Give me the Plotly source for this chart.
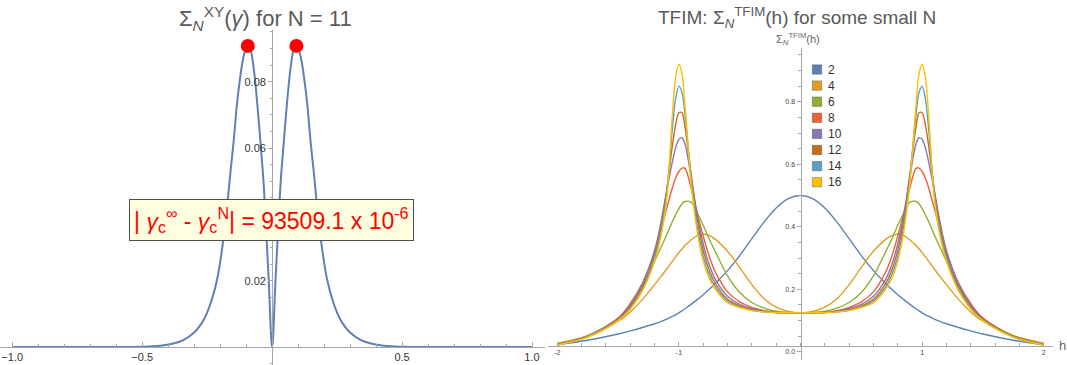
import plotly.graph_objects as go

# ---------------- data: left panel (XY model, N = 11) ----------------
gamma = [-1.0, -0.8, -0.6, -0.5, -0.43, -0.38, -0.34, -0.3, -0.27, -0.25, -0.23, -0.21,
         -0.19, -0.175, -0.16, -0.148, -0.135, -0.125, -0.115, -0.105, -0.0935, -0.082,
         -0.072, -0.065, -0.054, -0.043, -0.034, -0.026, -0.013, 0.0,
         0.013, 0.026, 0.034, 0.043, 0.054, 0.065, 0.072, 0.082, 0.0935, 0.105, 0.115,
         0.125, 0.135, 0.148, 0.16, 0.175, 0.19, 0.21, 0.23, 0.25, 0.27, 0.3, 0.34, 0.38,
         0.43, 0.5, 0.6, 0.8, 1.0]
sigma_xy = [0.0, 0.0, 0.0, 0.0001, 0.0004, 0.0011, 0.0022, 0.0044, 0.0073, 0.0104, 0.0148, 0.021,
            0.031, 0.041, 0.053, 0.062, 0.0735, 0.08, 0.0855, 0.089, 0.0908, 0.0893,
            0.0847, 0.08, 0.0705, 0.06, 0.051, 0.04, 0.02, 0.0,
            0.02, 0.04, 0.051, 0.06, 0.0705, 0.08, 0.0847, 0.0893, 0.0908, 0.089, 0.0855,
            0.08, 0.0735, 0.062, 0.053, 0.041, 0.031, 0.021, 0.0148, 0.0104, 0.0073, 0.0044, 0.0022, 0.0011,
            0.0004, 0.0001, 0.0, 0.0, 0.0]
peak_gamma = [-0.0935, 0.0935]
peak_sigma = [0.0908, 0.0908]

# ---------------- data: right panel (TFIM, values for h >= 0; curves are symmetric) ----------------
h_half = [0.0, 0.1, 0.2, 0.3, 0.4, 0.5, 0.6, 0.7, 0.75, 0.8, 0.85, 0.9, 0.95, 0.975,
          1.0, 1.025, 1.05, 1.1, 1.15, 1.2, 1.3, 1.4, 1.5, 1.75, 2.0]
sizes = ["2", "4", "6", "8", "10", "12", "14", "16"]
s2 = [0.5, 0.49, 0.46, 0.415, 0.362, 0.308, 0.26, 0.219, 0.2, 0.183, 0.167, 0.152, 0.138, 0.131,
      0.125, 0.119, 0.114, 0.105, 0.097, 0.09, 0.078, 0.067, 0.057, 0.037, 0.023]
s4 = [0.125, 0.129, 0.143, 0.17, 0.215, 0.27, 0.322, 0.36, 0.372, 0.377, 0.372, 0.358, 0.34, 0.329,
      0.318, 0.305, 0.292, 0.265, 0.24, 0.215, 0.168, 0.128, 0.098, 0.052, 0.028]
s6 = [0.125, 0.126, 0.13, 0.14, 0.158, 0.19, 0.243, 0.32, 0.36, 0.405, 0.445, 0.479, 0.481, 0.474,
      0.458, 0.44, 0.42, 0.375, 0.332, 0.29, 0.21, 0.15, 0.108, 0.052, 0.025]
s8 = [0.125, 0.125, 0.127, 0.132, 0.142, 0.16, 0.192, 0.255, 0.305, 0.37, 0.445, 0.525, 0.587, 0.588,
      0.577, 0.558, 0.53, 0.46, 0.385, 0.318, 0.22, 0.155, 0.108, 0.05, 0.023]
s10 = [0.125, 0.125, 0.126, 0.13, 0.138, 0.152, 0.178, 0.232, 0.278, 0.345, 0.44, 0.56, 0.665, 0.685,
       0.68, 0.655, 0.615, 0.515, 0.41, 0.325, 0.218, 0.15, 0.106, 0.049, 0.022]
s12 = [0.125, 0.125, 0.126, 0.129, 0.135, 0.147, 0.168, 0.218, 0.26, 0.325, 0.425, 0.57, 0.72, 0.765,
       0.765, 0.73, 0.67, 0.52, 0.395, 0.31, 0.208, 0.145, 0.103, 0.048, 0.022]
s14 = [0.125, 0.125, 0.126, 0.128, 0.133, 0.144, 0.162, 0.207, 0.245, 0.305, 0.405, 0.56, 0.76, 0.83,
       0.85, 0.815, 0.73, 0.51, 0.38, 0.3, 0.2, 0.14, 0.101, 0.048, 0.022]
s16 = [0.125, 0.125, 0.126, 0.128, 0.132, 0.142, 0.157, 0.2, 0.235, 0.29, 0.385, 0.54, 0.79, 0.89,
       0.92, 0.885, 0.78, 0.49, 0.365, 0.29, 0.195, 0.136, 0.1, 0.047, 0.022]
tfim_series = [s2, s4, s6, s8, s10, s12, s14, s16]
colors = ["#5E81B5", "#E19C24", "#8FB032", "#EB6235", "#8778B3", "#C56E1A", "#5D9EC7", "#FFBF00"]

# ---------------- layout geometry ----------------
W, H = 1067, 365
x1_range = [-1.047, 1.05]
y1_range = [-0.0054, 0.0956]
x1_dom = [0.0, 545 / W]
y1_dom = [0.0, 335 / H]
x2_range = [-2.08, 2.08]
y2_range = [-0.026, 0.972]
x2_dom = [547.6 / W, 1053.4 / W]
y2_dom = [5 / H, 317 / H]
x2_axis_at = 0.0195  # y value where the TFIM h-axis crosses


def frac(v, rng, dom):
    return dom[0] + (v - rng[0]) / (rng[1] - rng[0]) * (dom[1] - dom[0])


fig = go.Figure()

fig.add_trace(go.Scatter(x=gamma, y=sigma_xy, mode="lines",
                         line=dict(color="#5E81B5", width=2, shape="spline", smoothing=1.0),
                         xaxis="x", yaxis="y", showlegend=False, hoverinfo="skip"))
fig.add_trace(go.Scatter(x=peak_gamma, y=peak_sigma, mode="markers", marker=dict(color="#FF0000", size=14),
                         xaxis="x", yaxis="y", showlegend=False))

for name, vals, col in zip(sizes, tfim_series, colors):
    hx = [-v for v in h_half[::-1]] + h_half[1:]
    hy = vals[::-1] + vals[1:]
    fig.add_trace(go.Scatter(x=hx, y=hy, mode="lines", name=name,
                             line=dict(color=col, width=1.4, shape="spline", smoothing=0.9),
                             xaxis="x2", yaxis="y2", showlegend=False, hoverinfo="skip"))

axcol = "#a6a6a6"
tickfont_l = dict(family="Liberation Sans, Arial", size=11, color="#333333")
tickfont_r = dict(family="Liberation Sans, Arial", size=7, color="#444444")

fig.update_layout(
    width=W, height=H, autosize=False,
    margin=dict(l=0, r=0, t=0, b=0),
    paper_bgcolor="white", plot_bgcolor="white",
    showlegend=False,
    xaxis=dict(domain=x1_dom, range=x1_range, anchor="free",
               position=frac(0.0, y1_range, y1_dom),
               showline=True, linecolor=axcol, linewidth=1, zeroline=False, showgrid=False,
               tickmode="array", tickvals=[-1, -0.5, 0.5, 1], ticktext=["\u22121.0", "\u22120.5", "0.5", "1.0"],
               ticks="inside", ticklen=5, tickcolor=axcol, tickfont=tickfont_l,
               minor=dict(dtick=0.1, tick0=0, ticks="inside", ticklen=3, tickcolor=axcol)),
    yaxis=dict(domain=y1_dom, range=y1_range, anchor="free",
               position=frac(0.0, x1_range, x1_dom),
               showline=True, linecolor=axcol, linewidth=1, zeroline=False, showgrid=False,
               tickmode="array", tickvals=[0.02, 0.04, 0.06, 0.08], ticktext=["0.02", "", "0.06", "0.08"],
               ticks="outside", ticklen=4, tickcolor=axcol, tickfont=tickfont_l,
               minor=dict(dtick=0.005, tick0=0, ticks="outside", ticklen=2.5, tickcolor=axcol)),
    xaxis2=dict(domain=x2_dom, range=x2_range, anchor="free",
                position=frac(x2_axis_at, y2_range, y2_dom),
                showline=True, linecolor=axcol, linewidth=1, zeroline=False, showgrid=False,
                tickmode="array", tickvals=[-2, -1, 1, 2], ticktext=["-2", "-1", "1", "2"],
                ticks="inside", ticklen=4, tickcolor=axcol, tickfont=tickfont_r,
                minor=dict(dtick=0.2, tick0=0, ticks="inside", ticklen=2.5, tickcolor=axcol)),
    yaxis2=dict(domain=y2_dom, range=y2_range, anchor="free",
                position=frac(0.0, x2_range, x2_dom),
                showline=True, linecolor=axcol, linewidth=1, zeroline=False, showgrid=False,
                tickmode="array", tickvals=[0, 0.2, 0.4, 0.6, 0.8], ticktext=["0.0", "0.2", "0.4", "0.6", "0.8"],
                ticks="outside", ticklen=4, tickcolor=axcol, tickfont=tickfont_r,
                minor=dict(dtick=0.05, tick0=0, ticks="outside", ticklen=2.5, tickcolor=axcol)),
)

title_col = "#5a5a5a"
annots = [
    dict(text="\u03a3<sub><i>N</i></sub><sup>XY</sup>(<i>\u03b3</i>) for N = 11", x=265 / W, y=1 - 18 / H,
         xref="paper", yref="paper", showarrow=False, xanchor="center", yanchor="middle",
         font=dict(family="Liberation Sans, Arial", size=22, color=title_col)),
    dict(text="TFIM: \u03a3<sub><i>N</i></sub><sup>TFIM</sup>(h) for some small N", x=797 / W, y=1 - 17 / H,
         xref="paper", yref="paper", showarrow=False, xanchor="center", yanchor="middle",
         font=dict(family="Liberation Sans, Arial", size=19, color=title_col)),
    dict(text="\u03a3<sub><i>N</i></sub><sup>TFIM</sup>(h)", x=798 / W, y=1 - 39 / H,
         xref="paper", yref="paper", showarrow=False, xanchor="center", yanchor="middle",
         font=dict(family="Liberation Sans, Arial", size=11, color="#666666")),
    dict(text="h", x=1062 / W, y=1 - 345 / H,
         xref="paper", yref="paper", showarrow=False, xanchor="center", yanchor="middle",
         font=dict(family="Liberation Sans, Arial", size=13, color="#666666")),
    dict(text="| <i>\u03b3</i><sub>c</sub><sup>\u221e</sup> - <i>\u03b3</i><sub>c</sub><sup>N</sup>| = 93509.1 x 10<sup>-6</sup>",
         x=271 / W, y=1 - 220 / H, xref="paper", yref="paper", showarrow=False,
         xanchor="center", yanchor="middle",
         font=dict(family="Liberation Sans, Arial", size=23, color="#FF0000"),
         bgcolor="#FFFFE0", bordercolor="#4d4d4d", borderwidth=1, borderpad=4),
]

# legend (square swatches with labels)
shapes = []
for i, (name, col) in enumerate(zip(sizes, colors)):
    yc = 69.5 + i * 16.1
    shapes.append(dict(type="rect", xref="paper", yref="paper",
                       x0=812.3 / W, x1=821.7 / W, y0=1 - (yc + 4.7) / H, y1=1 - (yc - 4.7) / H,
                       fillcolor=col, line=dict(color="rgba(60,60,60,0.45)", width=0.8)))
    annots.append(dict(text=name, x=825.5 / W, y=1 - yc / H, xref="paper", yref="paper",
                       showarrow=False, xanchor="left", yanchor="middle",
                       font=dict(family="Liberation Sans, Arial", size=12, color="#333333")))

fig.update_layout(annotations=annots, shapes=shapes)
fig.write_html("out.html", config={"displayModeBar": False},
               post_script="document.body.style.margin='0';")
